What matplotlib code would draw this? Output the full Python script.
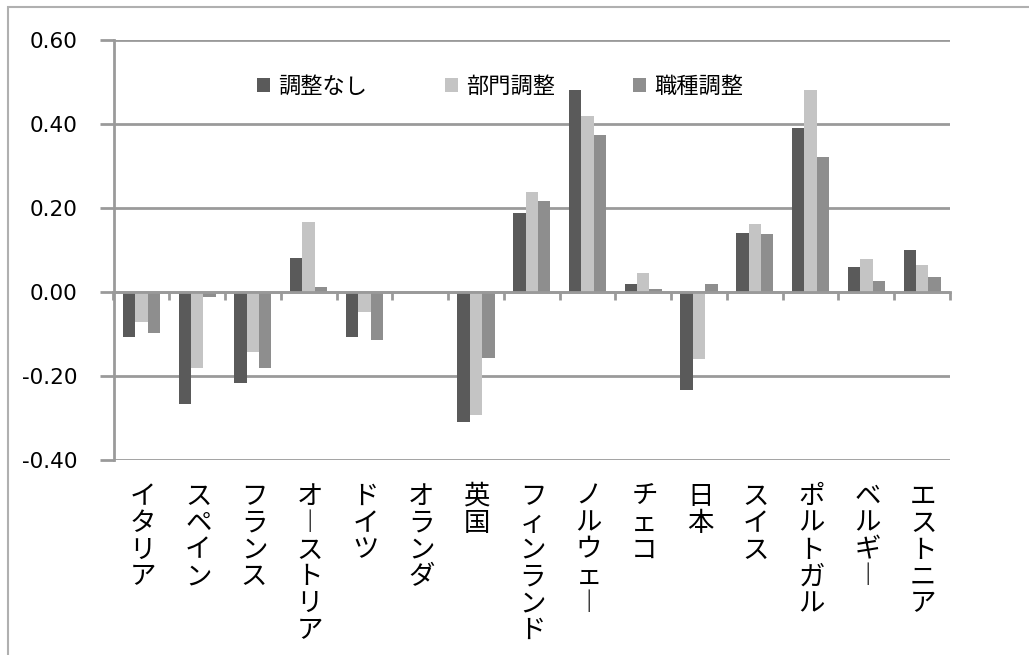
import matplotlib

matplotlib.use("Agg")
import matplotlib.pyplot as plt
import numpy as np
from matplotlib.patches import Rectangle
from matplotlib.transforms import blended_transform_factory

plt.rcParams["font.family"] = ["Noto Sans CJK JP", "DejaVu Sans"]

COUNTRIES = ["イタリア", "スペイン", "フランス", "オーストリア", "ドイツ", "オランダ", "英国",
             "フィンランド", "ノルウェー", "チェコ", "日本", "スイス", "ポルトガル", "ベルギー", "エストニア"]
SERIES = ["調整なし", "部門調整", "職種調整"]
NO_ADJ = [-0.107, -0.267, -0.217, 0.081, -0.107, 0.0, -0.310, 0.188, 0.480, 0.019, -0.233, 0.140, 0.390, 0.059, 0.099]
SECTOR_ADJ = [-0.072, -0.181, -0.143, 0.167, -0.048, 0.0, -0.293, 0.239, 0.418, 0.045, -0.160, 0.161, 0.480, 0.078, 0.064]
OCCUP_ADJ = [-0.098, -0.012, -0.180, 0.012, -0.114, 0.0, -0.157, 0.216, 0.374, 0.008, 0.018, 0.137, 0.322, 0.026, 0.035]
YTICKS = [-0.40, -0.20, 0.00, 0.20, 0.40, 0.60]

COLORS = ["#5a5a5a", "#c4c4c4", "#8e8e8e"]
GRID = "#9a9a9a"

fig = plt.figure(figsize=(10.29, 6.55), dpi=100)
ax = fig.add_axes([113.5 / 1029, 1 - 460 / 655, (950 - 113.5) / 1029, 420 / 655])

x = np.arange(len(COUNTRIES))
w = 0.222
handles = []
for k, (vals, name) in enumerate(zip((NO_ADJ, SECTOR_ADJ, OCCUP_ADJ), SERIES)):
    h = ax.bar(x + (k - 1) * w, vals, width=w, color=COLORS[k], linewidth=0, label=name, zorder=3)
    handles.append(h)

ax.set_xlim(-0.5, len(COUNTRIES) - 0.5)
ax.set_ylim(-0.4, 0.6)
ax.set_yticks(YTICKS)
ax.set_yticklabels([f"{v:.2f}" for v in YTICKS], family="DejaVu Sans", fontsize=15.5)
ax.yaxis.grid(True, color=GRID, lw=2, zorder=0)
ax.tick_params(axis="y", length=10, width=2, color=GRID, pad=16)

for s in ("top", "right"):
    ax.spines[s].set_visible(False)
ax.spines["left"].set_color(GRID)
ax.spines["left"].set_linewidth(2)
ax.spines["bottom"].set_position(("data", 0))
ax.spines["bottom"].set_color(GRID)
ax.spines["bottom"].set_linewidth(2)
ax.spines["bottom"].set_zorder(4)
ax.set_xticks(np.arange(len(COUNTRIES) + 1) - 0.5)
ax.set_xticklabels([])
ax.tick_params(axis="x", direction="out", length=6, width=2, color=GRID)

# vertical (tategaki) category labels under the plot
trans = blended_transform_factory(ax.transData, fig.transFigure)
for i, name in enumerate(COUNTRIES):
    stacked = "\n".join(name.replace("ー", "︱"))
    ax.text(i + 0.02, 1 - 483 / 655, stacked, transform=trans, ha="center", va="top",
            fontsize=19, linespacing=0.99, color="black")

fig.legend(handles=handles, labels=SERIES, loc="center", bbox_to_anchor=(500 / 1029, 1 - 86 / 655),
           ncol=3, frameon=False, fontsize=16, handlelength=0.6, handleheight=0.6,
           handletextpad=0.35, columnspacing=3.5)

fig.patches.append(Rectangle((8 / 1029, -0.1), 2, 1.1 - 7 / 655, transform=fig.transFigure,
                             fill=False, edgecolor="#b0b0b0", lw=1.5))

fig.savefig("out.png", dpi=100)
